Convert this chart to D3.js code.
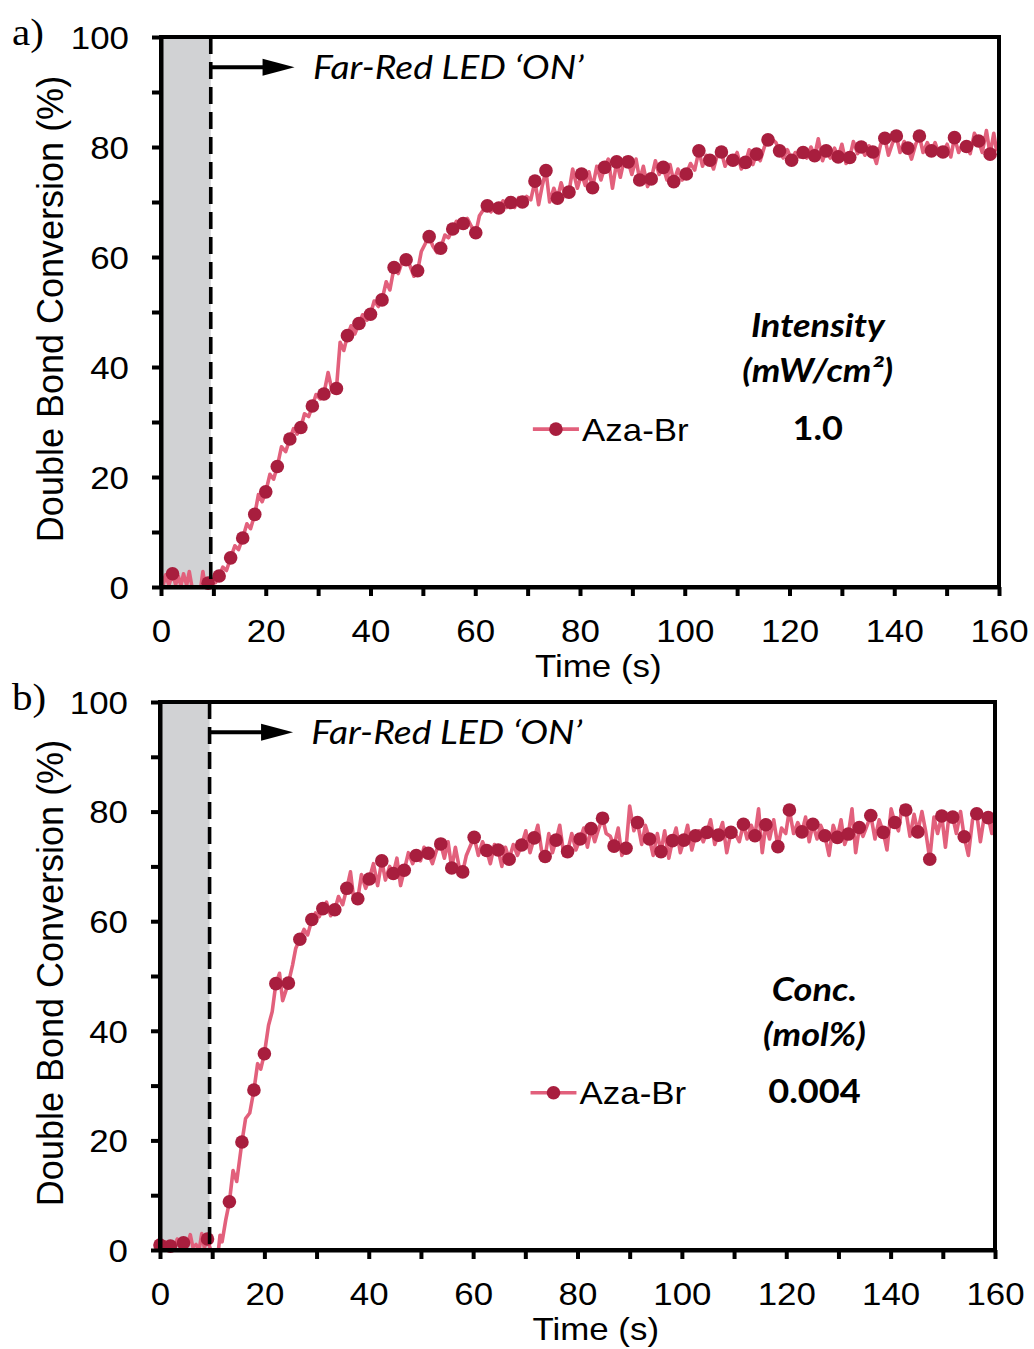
<!DOCTYPE html>
<html><head><meta charset="utf-8">
<script src="https://cdn.jsdelivr.net/npm/d3@7"></script>
<style>body{margin:0;background:#fff} svg{display:block}</style>
</head><body>
<svg id="chart" width="1034" height="1349"></svg>
<script>
// ---------------- data ----------------
const xTickLabels = [0, 20, 40, 60, 80, 100, 120, 140, 160];
const yTickLabels = [0, 20, 40, 60, 80, 100];
const xTitle = "Time (s)";
const yTitle = "Double Bond Conversion (%)";
const seriesName = "Aza-Br";
const annotationText = "Far-Red LED \u2018ON\u2019";
const ledOnTime = 9.5;
const panelLabels = ["a)", "b)"];
const legendHeadA = ["Intensity", "(mW/cm\u00B2)"];
const legendValueA = "1.0";
const legendHeadB = ["Conc.", "(mol%)"];
const legendValueB = "0.004";

// panel a: marker points [time (s), conversion (%)]
const markersA = [[2.2,2.4],[9.0,0.7],[11.1,2.0],[13.3,5.3],[15.6,8.9],[17.9,13.2],[20.0,17.3],[22.2,21.9],[24.6,26.9],[26.7,29.0],[28.9,32.9],[31.1,35.1],[33.5,36.1],[35.6,45.7],[37.8,47.9],[40.0,49.6],[42.2,52.2],[44.5,58.1],[46.8,59.5],[49.0,57.5],[51.2,63.7],[53.4,61.6],[55.7,65.1],[57.7,66.1],[60.1,64.4],[62.3,69.3],[64.5,68.9],[66.8,69.9],[69.0,70.0],[71.4,73.8],[73.5,75.7],[75.7,70.7],[77.9,71.8],[80.3,75.1],[82.4,72.6],[84.7,76.3],[87.0,77.3],[89.2,77.3],[91.4,74.0],[93.6,74.2],[95.9,76.3],[97.9,73.7],[100.3,75.1],[102.7,79.3],[104.8,77.6],[107.0,79.1],[109.2,77.6],[111.6,77.2],[113.7,78.7],[115.9,81.3],[118.1,79.3],[120.4,77.6],[122.6,79.0],[124.8,78.4],[127.0,79.3],[129.3,78.2],[131.5,78.1],[133.7,80.0],[135.9,79.1],[138.2,81.6],[140.4,82.0],[142.6,79.8],[144.8,82.0],[147.1,79.3],[149.3,79.1],[151.5,81.7],[153.8,80.1],[156.1,81.1],[158.3,78.7]];
// panel a: additional line-only readings between markers
const lineOnlyA = [[0,2.6],[0.4,0.2],[0.9,2.2],[1.5,0.3],[2.8,0.4],[3.3,2.0],[3.8,0.2],[4.3,2.4],[4.9,0.3],[5.4,2.8],[5.9,0.1],[6.5,0],[7.6,0],[8.0,2.8],[8.4,0.3],
[9.8,1.5],[10.4,0.8],[11.8,3.6],[12.5,3.0],[14.1,7.5],[14.8,6.8],[16.4,11.5],[17.1,10.6],[18.6,16.8],[19.3,15.5],[20.8,20.5],[21.5,19.6],[23.0,25.5],[23.8,24.6],[25.3,28.8],[26.0,27.8],[27.4,31.5],[28.2,31.0],[29.6,35.0],[30.4,34.2],[31.9,39.0],[32.7,35.5],[34.2,44.5],[34.9,43.0],[36.3,47.5],[37.0,46.0],[38.5,49.5],[39.3,48.5],[40.7,52.0],[41.5,51.0],[43.0,55.5],[43.7,54.0],[45.3,57.0],[46.0,59.0],[47.5,58.5],[48.3,56.5],[49.7,61.0],[50.5,62.5],[51.9,62.0],[52.7,60.8],[54.2,64.0],[54.9,63.5],[56.4,66.5],[57.0,65.8],[58.5,67.0],[59.3,65.5],[60.8,67.5],[61.5,68.5],[63.0,68.2],[63.8,69.5],[65.3,70.2],[66.0,69.0],[67.5,69.0],[68.3,70.8],[69.8,71.0],[70.6,70.4],[72.1,69.5],[72.8,73.0],[74.2,70.0],[75.0,72.5],[76.4,73.5],[77.2,71.0],[78.6,76.0],[79.5,72.5],[81.0,73.0],[81.7,75.5],[83.2,76.5],[84.0,74.0],[85.4,77.8],[86.2,72.5],[87.7,74.5],[88.5,78.0],[89.9,75.0],[90.7,77.8],[92.1,76.5],[92.9,72.8],[94.4,77.5],[95.1,75.0],[96.6,74.0],[97.2,76.8],[98.7,76.0],[99.5,74.0],[101.1,77.0],[101.9,75.8],[103.4,76.5],[104.1,78.5],[105.5,76.0],[106.3,78.8],[107.7,76.5],[108.5,78.2],[110.0,79.0],[110.8,76.0],[112.3,79.5],[113.0,76.8],[114.4,77.5],[115.2,80.0],[116.6,81.5],[117.4,80.8],[118.8,78.0],[119.6,79.5],[121.1,79.0],[121.9,78.2],[123.3,78.0],[124.1,80.0],[125.5,81.5],[126.3,77.5],[127.8,78.0],[128.6,79.8],[130.0,80.5],[130.8,77.0],[132.2,81.0],[133.0,78.8],[134.4,78.5],[135.2,80.2],[136.6,77.0],[137.4,80.5],[138.9,78.5],[139.7,80.8],[141.1,79.0],[141.9,81.0],[143.3,77.8],[144.1,80.5],[145.5,79.0],[146.3,80.8],[147.8,80.8],[148.6,78.5],[150.1,80.5],[150.8,78.2],[152.3,79.0],[153.0,80.5],[154.5,78.8],[155.3,82.5],[156.8,79.0],[157.6,83.0],[159.0,82.5],[159.5,79.5],[160,81.0]];

// panel b: marker points
const markersB = [[0,0.9],[2.0,0.7],[4.5,1.3],[9.1,2.0],[13.3,8.8],[15.7,19.7],[18.0,29.2],[20.0,35.8],[22.2,48.6],[24.6,48.7],[26.8,56.7],[29.1,60.3],[31.2,62.3],[33.5,62.1],[35.8,66.0],[37.9,64.1],[40.1,67.7],[42.5,71.0],[44.7,68.7],[46.8,69.3],[49.1,72.0],[51.4,72.4],[53.8,74.1],[55.9,69.7],[58.0,69.0],[60.2,75.3],[62.6,72.9],[64.8,73.0],[66.9,71.3],[69.3,73.9],[71.7,75.2],[73.8,71.8],[75.9,74.8],[78.1,72.7],[80.5,75.0],[82.6,76.9],[84.8,78.8],[87.0,73.7],[89.3,73.3],[91.5,78.0],[93.8,75.0],[96.0,72.7],[98.2,74.7],[100.4,74.8],[102.6,75.6],[104.8,76.2],[107.0,75.7],[109.4,76.2],[111.8,77.7],[114.0,75.6],[116.1,77.6],[118.4,73.6],[120.6,80.3],[123.0,76.3],[125.1,77.7],[127.4,75.6],[129.8,75.3],[131.9,75.9],[134.0,77.1],[136.2,79.3],[138.6,76.2],[140.8,78.0],[142.9,80.3],[145.2,76.3],[147.5,71.3],[149.8,79.2],[151.9,79.0],[154.1,75.4],[156.5,79.6],[158.7,78.9]];
const lineOnlyB = [[0.5,0.3],[1.0,1.5],[1.5,0.2],[2.7,0.5],[3.3,2.0],[3.9,0.4],[5.2,0.8],[5.8,2.8],[6.3,0.5],[6.9,1.0],[7.5,0],[8.0,3.0],[8.5,0.4],[9.7,0],[10.5,0],[11.2,0],[11.5,2.7],[11.9,1.5],[12.6,5.5],
[14.0,14.5],[14.7,12.5],[16.4,24.0],[17.2,25.0],[18.7,34.0],[19.3,33.0],[20.8,41.0],[21.5,43.5],[22.9,50.5],[23.5,45.5],[25.4,52.0],[26.0,55.0],[27.6,58.5],[28.3,57.5],[29.8,61.5],[30.5,60.8],[31.9,63.5],[32.7,61.0],[34.2,64.5],[35.0,63.0],[36.5,69.0],[37.2,63.5],[38.6,68.5],[39.4,66.0],[40.9,70.5],[41.7,66.5],[43.2,67.5],[44.0,70.0],[45.4,71.5],[46.1,66.5],[47.6,72.5],[48.4,70.5],[49.9,71.0],[50.6,73.5],[52.2,70.5],[53.0,73.0],[54.5,71.5],[55.2,74.5],[56.6,73.5],[57.3,70.0],[58.7,72.0],[59.5,73.8],[61.0,72.0],[61.8,74.5],[63.3,70.5],[64.1,74.0],[65.5,70.0],[66.2,73.5],[67.7,74.0],[68.5,72.0],[70.1,76.5],[70.9,72.5],[72.4,77.5],[73.1,73.0],[74.5,76.0],[75.2,72.5],[76.6,77.5],[77.4,72.0],[78.9,76.0],[79.7,73.0],[81.2,77.0],[81.9,73.5],[83.3,74.5],[84.1,77.0],[85.5,76.0],[86.3,75.5],[87.8,77.0],[88.5,72.0],[90.0,81.0],[90.8,76.5],[92.3,74.0],[93.0,77.5],[94.5,72.0],[95.3,76.0],[96.7,76.5],[97.5,71.5],[98.9,77.0],[99.7,72.5],[101.1,77.5],[101.9,73.0],[103.3,76.5],[104.1,74.5],[105.5,78.5],[106.3,74.0],[107.8,78.0],[108.6,72.5],[110.2,76.0],[111.0,74.5],[112.5,75.0],[113.3,77.5],[114.7,80.5],[115.4,72.5],[116.8,75.0],[117.6,78.5],[119.1,77.0],[119.9,76.0],[121.4,76.0],[122.2,78.0],[123.7,79.0],[124.4,74.5],[125.9,75.0],[126.6,77.5],[128.2,72.0],[129.0,77.5],[130.5,78.5],[131.2,74.0],[132.6,80.5],[133.3,72.5],[134.7,75.5],[135.5,77.5],[137.0,75.0],[137.8,78.5],[139.3,73.0],[140.1,80.5],[141.5,76.5],[142.2,81.0],[143.7,75.5],[144.5,79.5],[146.0,80.0],[146.7,76.5],[148.3,79.0],[149.0,76.0],[150.5,73.5],[151.2,79.5],[152.6,76.0],[153.4,80.0],[154.9,72.0],[155.7,78.5],[157.2,74.5],[158.0,79.5],[159.4,76.0],[160,80.0]];

// ---------------- drawing ----------------
const svg = d3.select("#chart");
const SANS = "'Liberation Sans', Arial, sans-serif";
const CAL = "Lato, 'Open Sans', sans-serif";
const lineColor = "#E2607C";
const dotColor = "#A81E3E";
const SX = 1.09;  // horizontal stretch of sans labels
const CX = 1.13;  // horizontal stretch of humanist labels

const panels = [
  {label: panelLabels[0], markers: markersA, extra: lineOnlyA, head: legendHeadA, value: legendValueA,
   left: 161, right: 999, top: 37, bottom: 587},
  {label: panelLabels[1], markers: markersB, extra: lineOnlyB, head: legendHeadB, value: legendValueB,
   left: 160, right: 995, top: 702, bottom: 1250}
];

panels.forEach((p, i) => {
  const g = svg.append("g");
  const x = d3.scaleLinear().domain([0, 160]).range([p.left, p.right]);
  const y = d3.scaleLinear().domain([0, 100]).range([p.bottom, p.top]);

  // grey "LED off" region
  g.append("rect").attr("x", x(0)).attr("y", y(100))
    .attr("width", x(ledOnTime) - x(0)).attr("height", y(0) - y(100))
    .attr("fill", "#D1D2D4");

  const clipId = "clip" + i;
  g.append("clipPath").attr("id", clipId).append("rect")
    .attr("x", x(0)).attr("y", y(100)).attr("width", x(160) - x(0)).attr("height", y(0) - y(100));

  const lineData = p.markers.concat(p.extra).sort((a, b) => a[0] - b[0]);
  g.append("path").datum(lineData)
    .attr("clip-path", `url(#${clipId})`)
    .attr("d", d3.line().x(d => x(d[0])).y(d => y(d[1])))
    .attr("fill", "none").attr("stroke", lineColor).attr("stroke-width", 3.6)
    .attr("stroke-linejoin", "round");

  g.append("g").selectAll("circle").data(p.markers).join("circle")
    .attr("cx", d => x(d[0])).attr("cy", d => y(d[1])).attr("r", 6.8)
    .attr("fill", dotColor);

  // dashed LED-on line
  g.append("line").attr("x1", x(ledOnTime)).attr("x2", x(ledOnTime))
    .attr("y1", y(100)).attr("y2", y(0))
    .attr("stroke", "#000").attr("stroke-width", 3.6).attr("stroke-dasharray", "17,8");

  // arrow
  const ay = y(94.5);
  const tip = x(25.5);
  g.append("line").attr("x1", x(ledOnTime) - 1.5).attr("x2", tip - 28).attr("y1", ay).attr("y2", ay)
    .attr("stroke", "#000").attr("stroke-width", 4);
  g.append("path").attr("d", `M${tip},${ay} L${tip - 32},${ay - 8.5} L${tip - 32},${ay + 8.5} Z`).attr("fill", "#000");
  g.append("text").attr("transform", `translate(${x(29)},${y(92.4)}) scale(${CX},1)`)
    .attr("font-family", CAL).attr("font-style", "italic").attr("font-size", 33)
    .text(annotationText);

  // frame (top & right), axes
  g.append("rect").attr("x", x(0)).attr("y", y(100)).attr("width", x(160) - x(0)).attr("height", y(0) - y(100))
    .attr("fill", "none").attr("stroke", "#000").attr("stroke-width", 4);

  const xAxis = d3.axisBottom(x).tickValues(d3.range(0, 161, 10)).tickSize(9).tickSizeOuter(0)
    .tickFormat(d => xTickLabels.includes(d) ? d : "");
  const gx = g.append("g").attr("transform", `translate(0,${y(0)})`).call(xAxis);
  gx.select(".domain").attr("stroke-width", 4);
  gx.selectAll(".tick line").attr("stroke-width", 4);
  gx.selectAll(".tick text").attr("font-family", SANS).attr("font-size", 32).attr("fill", "#000")
    .attr("y", 55).attr("dy", null).attr("transform", `scale(${SX},1)`);

  const yAxis = d3.axisLeft(y).tickValues(d3.range(0, 101, 10)).tickSize(9).tickSizeOuter(0)
    .tickFormat(d => yTickLabels.includes(d) ? d : "");
  const gy = g.append("g").attr("transform", `translate(${x(0)},0)`).call(yAxis);
  gy.select(".domain").attr("stroke-width", 4);
  gy.selectAll(".tick line").attr("stroke-width", 4);
  gy.selectAll(".tick text").attr("font-family", SANS).attr("font-size", 32).attr("fill", "#000")
    .attr("x", -32 / SX).attr("dy", "0.35em").attr("transform", `scale(${SX},1)`);

  // axis titles
  g.append("text").attr("transform", `translate(${x(83.5)},${y(0) + 90}) scale(${SX},1)`)
    .attr("text-anchor", "middle").attr("font-family", SANS).attr("font-size", 32).text(xTitle);
  g.append("text").attr("transform", `translate(63,${(y(0) + y(100)) / 2 - 3}) rotate(-90)`)
    .attr("text-anchor", "middle").attr("font-family", SANS).attr("font-size", 36).text(yTitle);

  // panel label
  g.append("text").attr("transform", `translate(12,${y(100) + 8}) scale(1.08,1)`)
    .attr("font-family", "'Liberation Serif', 'Times New Roman', serif").attr("font-size", 38).text(p.label);

  // legend
  const ly = y(28.7);
  g.append("line").attr("x1", x(71)).attr("x2", x(79.8)).attr("y1", ly).attr("y2", ly)
    .attr("stroke", lineColor).attr("stroke-width", 3.6);
  g.append("circle").attr("cx", x(75.4)).attr("cy", ly).attr("r", 6.8).attr("fill", dotColor);
  g.append("text").attr("transform", `translate(${x(80.4)},${ly + 11.5}) scale(${SX},1)`)
    .attr("font-family", SANS).attr("font-size", 32).text(seriesName);

  const cx = x(125.4);
  const headRows = [[p.head[0], 45.5, "italic"], [p.head[1], 37.2, "italic"], [p.value, 26.8, "normal"]];
  headRows.forEach(([txt, v, st]) => {
    g.append("text").attr("transform", `translate(${cx},${y(v)}) scale(${CX},1)`)
      .attr("text-anchor", "middle").attr("font-family", CAL).attr("font-style", st)
      .attr("font-weight", 700).attr("font-size", 32).text(txt);
  });
});
</script>
</body></html>
